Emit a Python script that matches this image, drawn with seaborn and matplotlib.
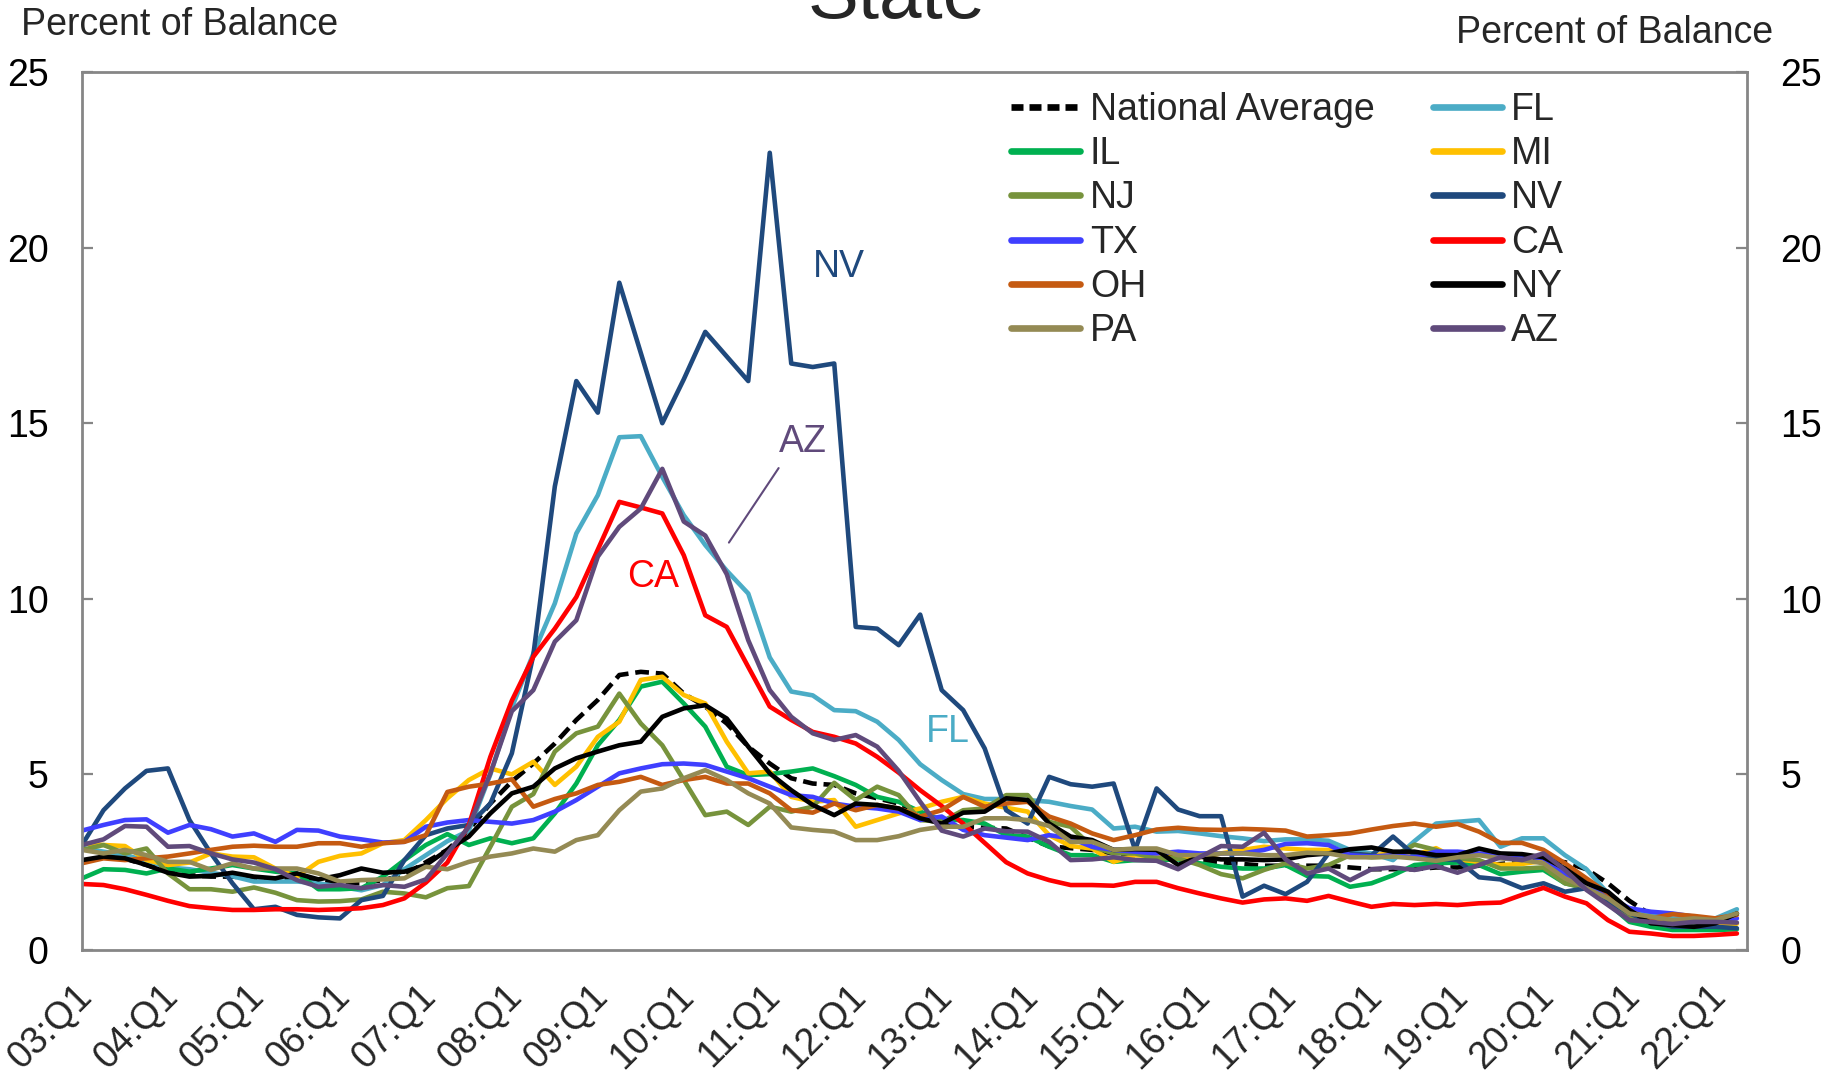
import matplotlib
matplotlib.use("Agg")
import matplotlib.pyplot as plt
import matplotlib.transforms as mtransforms
from matplotlib.ticker import FixedLocator, MultipleLocator
from matplotlib.lines import Line2D
import pandas as pd
import seaborn as sns

# Quarterly categories, 2003:Q1 through 2022:Q2
quarters = [f"{y:02d}:Q{q}" for y in range(3, 23) for q in range(1, 5)][:78]
tick_labels = quarters[::4]

national_avg = [2.9, 2.75, 2.6, 2.42, 2.23, 2.13, 2.09, 2.09, 2.04, 1.99, 2.09, 1.99, 1.9, 1.9, 1.99, 2.13,
                2.5, 2.85, 3.42, 4.17, 4.8, 5.31, 5.88, 6.55, 7.12, 7.83, 7.92, 7.87, 7.3, 6.93, 6.45, 5.79,
                5.31, 4.89, 4.74, 4.7, 4.46, 4.32, 4.17, 3.8, 3.65, 3.51, 3.48, 3.46, 3.2, 2.95, 2.9, 2.85,
                2.75, 2.7, 2.7, 2.65, 2.55, 2.5, 2.45, 2.4, 2.4, 2.4, 2.4, 2.35, 2.3, 2.3, 2.3, 2.35,
                2.35, 2.4, 2.45, 2.5, 2.55, 2.5, 2.3, 1.9, 1.4, 1.0, 0.85, 0.75, 0.72, 0.75]
fl = [2.9, 2.8, 2.7, 2.55, 2.35, 2.3, 2.2, 2.1, 1.95, 1.95, 1.95, 1.9, 1.8, 1.7, 1.85, 2.3,
      2.7, 3.1, 3.4, 5.0, 6.9, 8.44, 9.87, 11.86, 12.95, 14.6, 14.63, 13.47, 12.38, 11.53, 10.8, 10.15,
      8.33, 7.36, 7.25, 6.83, 6.8, 6.5, 5.98, 5.29, 4.84, 4.44, 4.3, 4.3, 4.27, 4.22, 4.1, 4.0,
      3.46, 3.51, 3.37, 3.39, 3.32, 3.24, 3.18, 3.1, 3.15, 3.15, 3.11, 2.85, 2.75, 2.56, 3.1, 3.6,
      3.65, 3.7, 2.94, 3.18, 3.18, 2.7, 2.3, 1.61, 1.14, 1.0, 0.9, 0.85, 0.9, 1.16]
il = [2.04, 2.3, 2.28, 2.18, 2.32, 2.23, 2.32, 2.42, 2.32, 2.23, 2.18, 1.73, 1.73, 1.76, 2.09, 2.56,
      2.99, 3.3, 2.99, 3.18, 3.04, 3.18, 3.89, 4.74, 5.83, 6.55, 7.5, 7.64, 7.02, 6.36, 5.22, 4.98,
      5.01, 5.08, 5.17, 4.95, 4.7, 4.36, 4.22, 3.94, 3.7, 3.7, 3.6, 3.27, 3.23, 2.94, 2.7, 2.7,
      2.51, 2.56, 2.56, 2.58, 2.47, 2.37, 2.32, 2.32, 2.42, 2.11, 2.09, 1.8, 1.9, 2.13, 2.42, 2.47,
      2.49, 2.42, 2.16, 2.23, 2.28, 1.9, 1.76, 1.33, 0.8, 0.66, 0.57, 0.57, 0.57, 0.59]
mi = [3.04, 2.99, 2.96, 2.56, 2.42, 2.49, 2.75, 2.66, 2.64, 2.32, 2.09, 2.51, 2.68, 2.75, 3.04, 3.13,
      3.7, 4.32, 4.84, 5.17, 5.0, 5.36, 4.7, 5.22, 6.07, 6.5, 7.69, 7.78, 7.26, 7.02, 5.93, 5.03,
      5.08, 4.36, 4.22, 4.27, 3.51, 3.7, 3.89, 4.03, 4.22, 4.36, 4.17, 4.05, 3.94, 3.27, 2.96, 2.89,
      2.51, 2.7, 2.66, 2.61, 2.64, 2.75, 2.85, 2.94, 2.89, 2.85, 2.85, 2.73, 2.7, 2.75, 2.7, 2.9,
      2.58, 2.51, 2.42, 2.45, 2.54, 2.09, 1.8, 1.5, 1.0, 0.85, 0.75, 0.7, 0.7, 0.75]
nj = [2.85, 2.99, 2.75, 2.89, 2.18, 1.73, 1.73, 1.66, 1.78, 1.63, 1.42, 1.38, 1.39, 1.44, 1.66, 1.61,
      1.5, 1.76, 1.82, 2.94, 4.08, 4.44, 5.65, 6.17, 6.36, 7.3, 6.45, 5.83, 4.84, 3.84, 3.94, 3.56,
      4.08, 3.94, 4.08, 4.76, 4.27, 4.65, 4.41, 3.7, 3.65, 3.98, 4.03, 4.41, 4.41, 3.65, 3.51, 2.94,
      2.75, 2.75, 2.61, 2.61, 2.42, 2.16, 2.04, 2.28, 2.47, 2.32, 2.42, 2.7, 2.64, 2.66, 3.0, 2.85,
      2.61, 2.56, 2.32, 2.32, 2.35, 1.9, 1.76, 1.38, 0.9, 0.8, 0.66, 0.71, 0.8, 1.04]
nv = [2.99, 3.98, 4.6, 5.1, 5.17, 3.7, 2.75, 1.9, 1.16, 1.23, 1.0, 0.93, 0.9, 1.42, 1.54, 2.56,
      3.27, 3.46, 3.56, 4.17, 5.6, 8.4, 13.2, 16.2, 15.3, 19.0, 17.0, 15.0, 16.25, 17.6, 16.9, 16.2,
      22.7, 16.7, 16.6, 16.7, 9.2, 9.15, 8.68, 9.55, 7.4, 6.83, 5.74, 3.98, 3.6, 4.93, 4.72, 4.65,
      4.74, 2.85, 4.6, 4.0, 3.81, 3.81, 1.52, 1.83, 1.59, 1.94, 2.75, 2.75, 2.7, 3.23, 2.7, 2.6,
      2.56, 2.07, 2.01, 1.76, 1.9, 1.66, 1.76, 1.4, 1.04, 0.8, 0.66, 0.66, 0.66, 0.62]
tx = [3.4, 3.56, 3.7, 3.72, 3.34, 3.56, 3.44, 3.23, 3.32, 3.08, 3.42, 3.4, 3.23, 3.15, 3.06, 3.08,
      3.51, 3.63, 3.7, 3.65, 3.6, 3.7, 3.94, 4.27, 4.65, 5.03, 5.17, 5.29, 5.31, 5.27, 5.08, 4.89,
      4.65, 4.41, 4.36, 4.17, 4.08, 4.03, 3.94, 3.7, 3.8, 3.42, 3.27, 3.2, 3.13, 3.27, 3.18, 2.94,
      2.85, 2.8, 2.75, 2.8, 2.75, 2.75, 2.75, 2.85, 3.02, 3.04, 2.99, 2.7, 2.66, 2.7, 2.64, 2.8,
      2.8, 2.75, 2.7, 2.68, 2.61, 2.18, 1.8, 1.52, 1.19, 1.09, 1.04, 0.95, 0.85, 0.9]
ca = [1.88, 1.85, 1.73, 1.57, 1.4, 1.25, 1.19, 1.14, 1.14, 1.16, 1.16, 1.14, 1.16, 1.19, 1.28, 1.47,
      1.92, 2.49, 3.56, 5.5, 7.1, 8.35, 9.15, 10.05, 11.4, 12.76, 12.6, 12.43, 11.24, 9.53, 9.2, 8.06,
      6.93, 6.55, 6.21, 6.07, 5.88, 5.5, 5.05, 4.55, 4.1, 3.6, 3.05, 2.5, 2.18, 1.99, 1.85, 1.85,
      1.83, 1.94, 1.94, 1.76, 1.61, 1.47, 1.35, 1.44, 1.47, 1.4, 1.54, 1.38, 1.23, 1.31, 1.28, 1.31,
      1.28, 1.33, 1.35, 1.57, 1.77, 1.52, 1.33, 0.85, 0.52, 0.47, 0.4, 0.4, 0.43, 0.47]
oh = [2.47, 2.61, 2.56, 2.61, 2.66, 2.75, 2.85, 2.94, 2.97, 2.94, 2.94, 3.04, 3.04, 2.94, 3.04, 3.08,
      3.27, 4.5, 4.65, 4.74, 4.86, 4.08, 4.3, 4.46, 4.7, 4.79, 4.93, 4.7, 4.84, 4.93, 4.74, 4.74,
      4.46, 3.98, 3.91, 4.17, 3.98, 4.13, 4.03, 3.8, 3.98, 4.36, 4.08, 4.17, 4.22, 3.8, 3.6, 3.32,
      3.13, 3.27, 3.43, 3.48, 3.43, 3.42, 3.45, 3.43, 3.4, 3.23, 3.27, 3.32, 3.43, 3.53, 3.6, 3.51,
      3.59, 3.37, 3.05, 3.05, 2.85, 2.47, 2.04, 1.61, 1.09, 0.9, 1.02, 0.97, 0.9, 1.0]
ny = [2.56, 2.66, 2.61, 2.42, 2.2, 2.09, 2.11, 2.2, 2.09, 2.04, 2.18, 2.01, 2.13, 2.32, 2.2, 2.23,
      2.42, 2.85, 3.23, 3.89, 4.46, 4.65, 5.17, 5.46, 5.65, 5.83, 5.93, 6.64, 6.88, 6.97, 6.59, 5.79,
      5.03, 4.55, 4.13, 3.84, 4.17, 4.13, 4.03, 3.75, 3.6, 3.91, 3.94, 4.32, 4.27, 3.6, 3.23, 3.13,
      2.85, 2.87, 2.85, 2.42, 2.66, 2.58, 2.58, 2.56, 2.58, 2.7, 2.75, 2.87, 2.92, 2.8, 2.8, 2.7,
      2.7, 2.89, 2.75, 2.73, 2.64, 2.32, 1.9, 1.66, 1.14, 0.76, 0.71, 0.66, 0.76, 1.04]
pa = [2.85, 2.75, 2.85, 2.7, 2.51, 2.51, 2.28, 2.47, 2.32, 2.32, 2.32, 2.18, 1.95, 1.99, 2.01, 2.04,
      2.37, 2.3, 2.51, 2.66, 2.75, 2.89, 2.8, 3.13, 3.27, 3.98, 4.51, 4.6, 4.89, 5.12, 4.84, 4.46,
      4.17, 3.49, 3.42, 3.37, 3.13, 3.13, 3.24, 3.42, 3.51, 3.51, 3.75, 3.75, 3.7, 3.53, 3.08, 3.08,
      2.85, 2.89, 2.89, 2.7, 2.7, 2.75, 2.75, 2.7, 2.7, 2.77, 2.75, 2.64, 2.64, 2.66, 2.61, 2.54,
      2.64, 2.7, 2.61, 2.56, 2.47, 2.04, 1.76, 1.47, 1.04, 0.95, 0.85, 0.9, 0.85, 1.04]
az = [2.99, 3.15, 3.53, 3.51, 2.94, 2.96, 2.75, 2.58, 2.49, 2.3, 1.99, 1.8, 1.85, 1.76, 1.85, 1.8,
      2.01, 2.75, 3.51, 5.03, 6.8, 7.4, 8.78, 9.39, 11.2, 12.05, 12.57, 13.7, 12.2, 11.8, 10.7, 8.82,
      7.4, 6.64, 6.17, 5.98, 6.12, 5.79, 5.1, 4.22, 3.4, 3.23, 3.46, 3.38, 3.37, 3.08, 2.56, 2.58,
      2.64, 2.56, 2.54, 2.3, 2.64, 2.96, 2.94, 3.34, 2.58, 2.18, 2.32, 1.99, 2.3, 2.35, 2.28, 2.39,
      2.2, 2.42, 2.64, 2.56, 2.75, 2.28, 1.71, 1.28, 0.85, 0.8, 0.74, 0.8, 0.8, 0.78]

# drawing order (later series on top)
series = [
    ("National Average", national_avg, "#000000"),
    ("FL", fl, "#4BACC6"),
    ("IL", il, "#00B050"),
    ("MI", mi, "#FFC000"),
    ("NJ", nj, "#77933C"),
    ("NV", nv, "#1F497D"),
    ("TX", tx, "#3F3FFF"),
    ("CA", ca, "#FF0000"),
    ("OH", oh, "#C55A11"),
    ("NY", ny, "#000000"),
    ("PA", pa, "#948A54"),
    ("AZ", az, "#604A7B"),
]
legend_order = ["National Average", "IL", "NJ", "TX", "OH", "PA",
                "FL", "MI", "NV", "CA", "NY", "AZ"]

sns.set_theme(style="white")
plt.rcParams["font.family"] = ["Liberation Sans", "DejaVu Sans"]

W, H = 1839, 1074
fig = plt.figure(figsize=(W / 100, H / 100), dpi=100)
ax = fig.add_axes([82 / W, 1 - 950 / H, (1747 - 82) / W, (950 - 72) / H])

FS = 27
idx = list(range(len(quarters)))
handles = {}
for name, vals, col in series:
    df = pd.DataFrame({"q": idx, "v": vals})
    sns.lineplot(data=df, x="q", y="v", ax=ax, color=col, linewidth=3.3,
                 legend=False, solid_joinstyle="round", solid_capstyle="round")
    line = ax.lines[-1]
    if name == "National Average":
        line.set_dashes((3.0, 1.5))
        line.set_dash_capstyle("butt")
    h = Line2D([], [], color=col, lw=4.8, solid_capstyle="round")
    if name == "National Average":
        h.set_dashes((1.8, 0.9))
    handles[name] = h

ax.set_xlim(0, 77.47)
ax.set_ylim(0, 25)
ax.set_xlabel("")
ax.set_ylabel("")

gray = "#868686"
for sp in ax.spines.values():
    sp.set_color(gray)
    sp.set_linewidth(2.0)

ax.yaxis.set_major_locator(MultipleLocator(5))
ax.tick_params(axis="y", which="major", direction="in", length=8, width=1.6,
               color=gray, labelsize=FS, pad=24, left=True, right=True,
               labelleft=True, labelright=True, labelcolor="black")

ax.xaxis.set_major_locator(FixedLocator(idx[::4]))
ax.xaxis.set_minor_locator(FixedLocator(idx))
ax.set_xticklabels(tick_labels)
ax.tick_params(axis="x", which="both", direction="in", length=8, width=1.6,
               color=gray, labelsize=FS, pad=20)
shift = mtransforms.ScaledTranslation(-0.08, 0, fig.dpi_scale_trans)
for lab in ax.get_xticklabels():
    lab.set_rotation(45)
    lab.set_ha("right")
    lab.set_va("top")
    lab.set_rotation_mode("anchor")
    lab.set_transform(lab.get_transform() + shift)

# axis titles and chart title
fig.text(21 / W, 1 - 35 / H, "Percent of Balance", fontsize=FS, va="baseline", ha="left")
fig.text(1773 / W, 1 - 43 / H, "Percent of Balance", fontsize=FS, va="baseline", ha="right")
fig.text(897 / W, 1 - 18 / H, "State", fontsize=55, va="baseline", ha="center")

# in-plot state labels
ax.text(35.2, 19.44, "NV", color="#1F497D", fontsize=FS, ha="center", va="center")
ax.text(26.57, 10.62, "CA", color="#FF0000", fontsize=FS, ha="center", va="center")
ax.text(40.3, 6.2, "FL", color="#4BACC6", fontsize=FS, ha="center", va="center")
ax.annotate("AZ", xy=(30.1, 11.6), xytext=(33.55, 14.46), color="#604A7B",
            fontsize=FS, ha="center", va="center",
            arrowprops=dict(arrowstyle="-", color="#604A7B", lw=1.5,
                            relpos=(0.1, 0.0), shrinkA=4, shrinkB=0))

leg = ax.legend([handles[n] for n in legend_order], legend_order, ncol=2,
                loc="upper left", bbox_to_anchor=(1011 / W, 1 - 92 / H),
                bbox_transform=fig.transFigure, frameon=False, fontsize=FS,
                handlelength=1.85, handletextpad=0.25, columnspacing=1.55,
                labelspacing=0.22, borderpad=0, borderaxespad=0)

fig.savefig("out.png", dpi=100)
